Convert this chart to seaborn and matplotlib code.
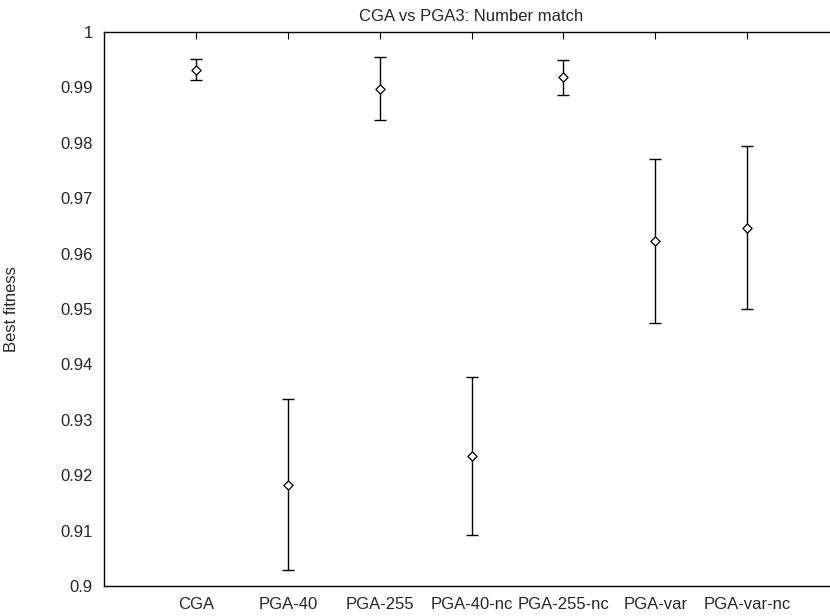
import numpy as np
import pandas as pd
import matplotlib
matplotlib.use("Agg")
import matplotlib.pyplot as plt
import matplotlib.ticker as mticker
import seaborn as sns

methods = ["CGA", "PGA-40", "PGA-255", "PGA-40-nc", "PGA-255-nc", "PGA-var", "PGA-var-nc"]
best_fitness = [0.9932, 0.9183, 0.9898, 0.9235, 0.9918, 0.9622, 0.9647]
err = [0.0019, 0.0155, 0.0056, 0.0143, 0.0031, 0.0148, 0.0147]
yticks = [0.9, 0.91, 0.92, 0.93, 0.94, 0.95, 0.96, 0.97, 0.98, 0.99, 1.0]

df = pd.DataFrame({"method": methods, "fitness": best_fitness, "err": err})

sns.set_style("white")
plt.rcParams["font.family"] = ["Liberation Sans", "DejaVu Sans"]
plt.rcParams["font.size"] = 12

fig = plt.figure(figsize=(8.3, 6.16), dpi=100)
# plot box runs past the right edge of the picture, as in the reference
ax = fig.add_axes([104 / 830, 30 / 616, 735 / 830, 554 / 616])

ax.errorbar(df["method"], df["fitness"], yerr=df["err"], fmt="none",
            ecolor="black", elinewidth=1.0, capsize=4, capthick=1.0)
sns.scatterplot(data=df, x="method", y="fitness", ax=ax, marker="D", s=22,
                facecolor="white", edgecolor="black", linewidth=0.9, zorder=3)

ax.set_xlim(-1, 7)
ax.set_ylim(0.9, 1.0)
ax.set_yticks(yticks)
ax.yaxis.set_major_formatter(mticker.FormatStrFormatter("%g"))
ax.set_xlabel("")
ax.set_ylabel("Best fitness", fontsize=12)
ax.yaxis.set_label_coords(-0.1156, 0.5)
ax.set_title("CGA vs PGA3: Number match", fontsize=12, pad=8)

ax.tick_params(direction="in", length=5, width=0.8, color="black",
               labelsize=12, pad=8, top=True, right=False)
for s in ax.spines.values():
    s.set_color("black")
    s.set_linewidth(1.0)
ax.spines["right"].set_visible(False)

fig.savefig("out.png", dpi=100)
